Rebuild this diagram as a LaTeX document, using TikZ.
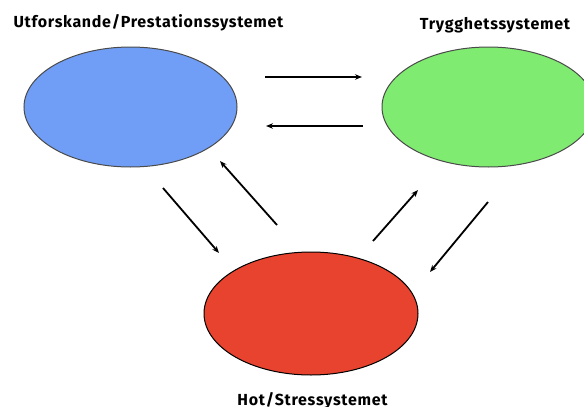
\documentclass[tikz,border=0pt]{standalone}
\usepackage{fontspec}
\setmainfont{Fira Sans}
\newfontfamily\lblfont[LetterSpace=4.4]{Fira Sans}
\usepackage{tikz}
\usetikzlibrary{positioning, arrows.meta, shapes.geometric, calc}

\definecolor{blueSys}{HTML}{709EF6}
\definecolor{greenSys}{HTML}{7FEB71}
\definecolor{redSys}{HTML}{E8432E}
\definecolor{rimGray}{HTML}{4A4A4A}

\begin{document}
\begin{tikzpicture}[
    x=1pt, y=-1pt,
    sys/.style={ellipse, minimum width=213pt, minimum height=120pt, inner sep=0pt, line width=1pt},
    lbl/.style={font=\lblfont\fontsize{16}{18}\selectfont\bfseries, anchor=base},
    arrow/.style={-{Stealth[length=7pt, width=5.5pt]}, line width=1.8pt}
]
    \useasboundingbox (0,0) rectangle (584,407);
    \clip (0,0) rectangle (584,407);

    % Systems
    \node[sys, draw=rimGray, fill=blueSys] (explore) at (130.5,107) {};
    \node[sys, draw=rimGray, fill=greenSys] (safe) at (488.5,107) {};
    \node[sys, draw=black, fill=redSys, minimum width=214pt, minimum height=123pt] (threat) at (311,313.5) {};

    % Labels
    \node[lbl] (exploreLbl) at (148.5,27) {Utforskande/Prestationssystemet};
    \node[lbl] (safeLbl) at (495,29) {Trygghetssystemet};
    \node[lbl] (threatLbl) at (312.5,405) {Hot/Stressystemet};

    % Arrow ends
    \coordinate (es1) at (265,77);   \coordinate (se1) at (362,77);
    \coordinate (se2) at (363,126);  \coordinate (es2) at (266,126);
    \coordinate (et1) at (163,188);  \coordinate (te1) at (219,253);
    \coordinate (te2) at (277,225);  \coordinate (et2) at (220,161);
    \coordinate (ts1) at (373,241);  \coordinate (st1) at (418,190);
    \coordinate (st2) at (488,202);  \coordinate (ts2) at (430,272);

    % Connections
    \draw[arrow] (es1) -- (se1);
    \draw[arrow] (se2) -- (es2);
    \draw[arrow] (et1) -- (te1);
    \draw[arrow] (te2) -- (et2);
    \draw[arrow] (ts1) -- (st1);
    \draw[arrow] (st2) -- (ts2);

\end{tikzpicture}
\end{document}
